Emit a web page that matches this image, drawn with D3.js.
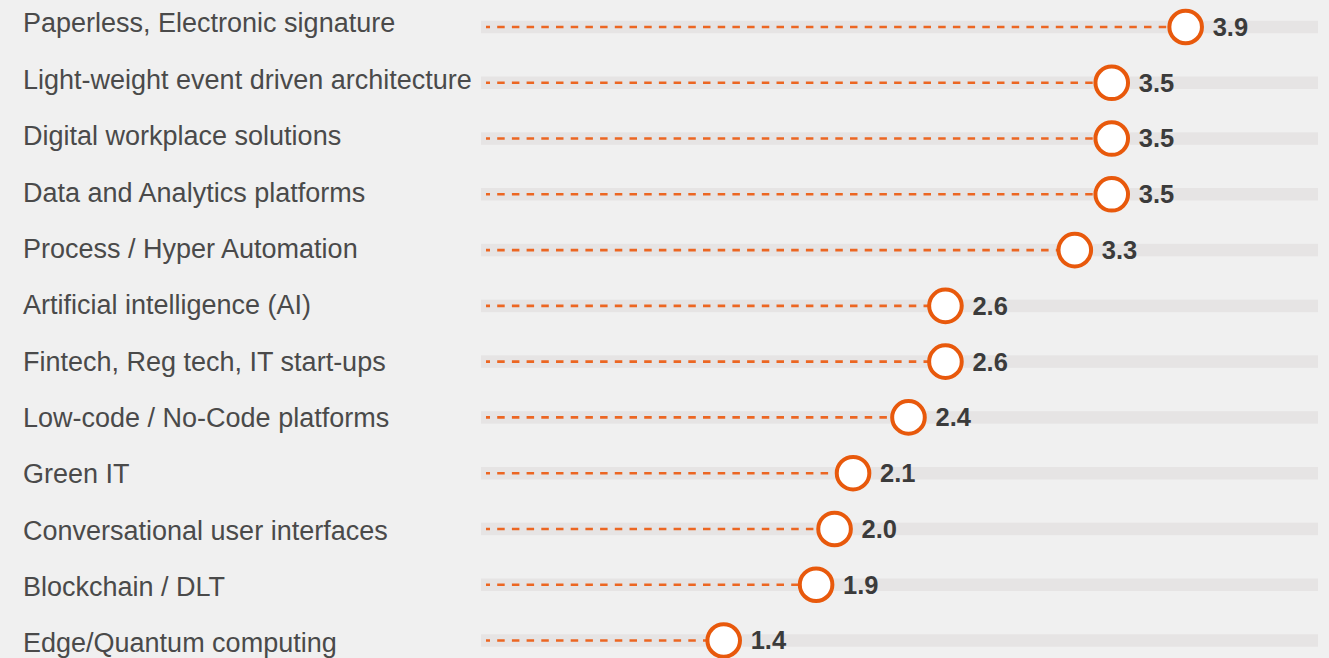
<!DOCTYPE html>
<html>
<head>
<meta charset="utf-8">
<script src="https://cdn.jsdelivr.net/npm/d3@7"></script>
<style>
  html, body { margin: 0; padding: 0; background: #f0f0f0; }
  svg { display: block; }
</style>
</head>
<body>
<svg id="chart" width="1329" height="658"></svg>
<script>
// Technology topics and their average scores
const categories = [
  "Paperless, Electronic signature",
  "Light-weight event driven architecture",
  "Digital workplace solutions",
  "Data and Analytics platforms",
  "Process / Hyper Automation",
  "Artificial intelligence (AI)",
  "Fintech, Reg tech, IT start-ups",
  "Low-code / No-Code platforms",
  "Green IT",
  "Conversational user interfaces",
  "Blockchain / DLT",
  "Edge/Quantum computing"
];
const scores = [3.9, 3.5, 3.5, 3.5, 3.3, 2.6, 2.6, 2.4, 2.1, 2.0, 1.9, 1.4];
const scoreLabels = ["3.9", "3.5", "3.5", "3.5", "3.3", "2.6", "2.6", "2.4", "2.1", "2.0", "1.9", "1.4"];

const svg = d3.select("#chart");
const W = 1329, H = 658;

svg.append("rect").attr("width", W).attr("height", H).attr("fill", "#f0f0f0");

// Value scale and row scales (tracks and their text labels)
const x = d3.scaleLinear().domain([0, 4.6]).range([465, 1315]);
const yTrack = d3.scalePoint().domain(categories).range([27, 640.5]);
const yLabel = d3.scalePoint().domain(categories).range([23, 643]);

const trackLeft = 481, trackRight = 1318, trackH = 12.5;
const orange = "#e8590c";

const rows = categories.map((c, i) => ({ cat: c, v: scores[i], lab: scoreLabels[i] }));

// Grey background tracks
svg.append("g").selectAll("rect").data(rows).join("rect")
  .attr("x", trackLeft)
  .attr("y", d => yTrack(d.cat) - trackH / 2)
  .attr("width", trackRight - trackLeft)
  .attr("height", trackH)
  .attr("fill", "#e6e4e4");

// Dashed leader lines from the start of the track to each score
svg.append("g").selectAll("line").data(rows).join("line")
  .attr("x1", 486)
  .attr("x2", d => x(d.v))
  .attr("y1", d => yTrack(d.cat))
  .attr("y2", d => yTrack(d.cat))
  .attr("stroke", "#ec6622")
  .attr("stroke-width", 2.6)
  .attr("stroke-dasharray", "7.5,7.2")
  .attr("stroke-dashoffset", 3.5);

// Score markers
svg.append("g").selectAll("circle").data(rows).join("circle")
  .attr("cx", d => x(d.v))
  .attr("cy", d => yTrack(d.cat))
  .attr("r", 16.3)
  .attr("fill", "#ffffff")
  .attr("stroke", orange)
  .attr("stroke-width", 4);

// Score values
svg.append("g").selectAll("text").data(rows).join("text")
  .attr("x", d => x(d.v) + 27)
  .attr("y", d => yTrack(d.cat))
  .attr("dy", "0.35em")
  .attr("font-family", "'Liberation Sans', Arial, Helvetica, sans-serif")
  .attr("font-weight", "bold")
  .attr("font-size", 25.5)
  .attr("fill", "#3b3b3b")
  .text(d => d.lab);

// Category labels
svg.append("g").selectAll("text").data(rows).join("text")
  .attr("x", 23)
  .attr("y", d => yLabel(d.cat))
  .attr("dy", "0.35em")
  .attr("font-family", "'Liberation Sans', Arial, Helvetica, sans-serif")
  .attr("font-size", 27)
  .attr("fill", "#4a4a4a")
  .text(d => d.cat);
</script>
</body>
</html>
